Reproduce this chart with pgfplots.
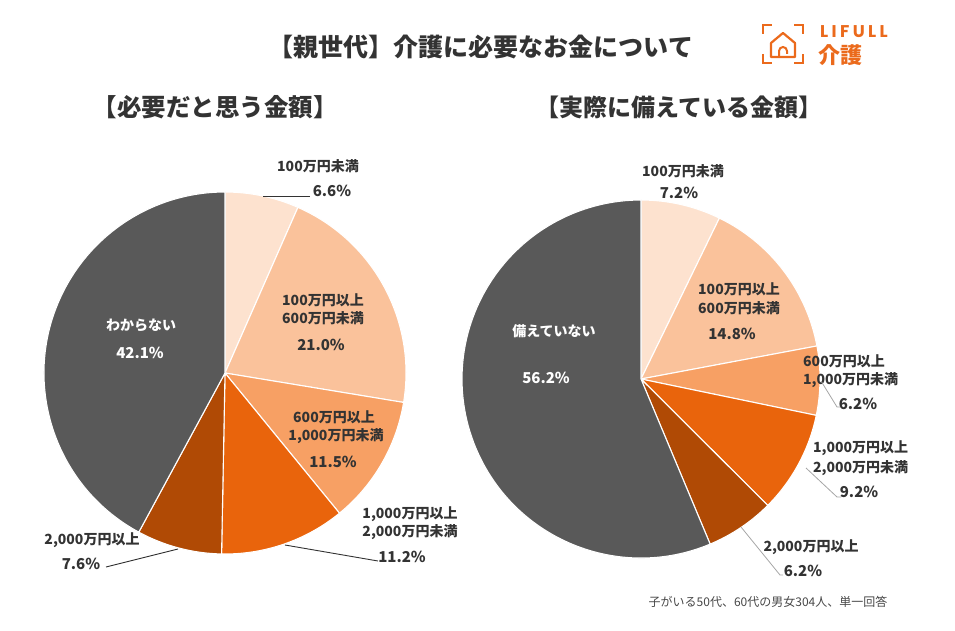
\documentclass[border=0pt]{standalone}
\usepackage{pgfplots}
\pgfplotsset{compat=1.18}
\usepackage{pgfplotstable}
\usepackage{fontspec}
\setmainfont{Noto Sans CJK JP}
\newfontfamily\logofont{Poppins}

% slice colours, from the lowest amount to "don't know"
\definecolor{c0}{HTML}{FDE2CF}
\definecolor{c1}{HTML}{FAC29B}
\definecolor{c2}{HTML}{F7A064}
\definecolor{c3}{HTML}{E9640C}
\definecolor{c4}{HTML}{B04A05}
\definecolor{c5}{HTML}{595959}
\definecolor{txt}{HTML}{333333}
\definecolor{brand}{HTML}{EB6A1C}
\definecolor{leader}{HTML}{A6A6A6}

% shares in percent, in slice order (clockwise from 12 o'clock)
\pgfplotstableread{
pct
6.6
21.0
11.5
11.2
7.6
42.1
}\needed
\pgfplotstableread{
pct
7.2
14.8
6.2
9.2
6.2
56.2
}\saved

% #1 table, #2 radius on the page
\newcommand\drawpie[2]{%
  \def\total{0}%
  \pgfplotsforeachungrouped \i in {0,...,5}{%
    \pgfplotstablegetelem{\i}{pct}\of{#1}\let\val\pgfplotsretval
    \pgfmathsetmacro\total{\total+\val}}%
  \def\cum{0}%
  \pgfplotsforeachungrouped \i in {0,...,5}{%
    \pgfplotstablegetelem{\i}{pct}\of{#1}\let\val\pgfplotsretval
    \pgfmathsetmacro\angA{90-(\cum/\total)*360}%
    \pgfmathsetmacro\cum{\cum+\val}%
    \pgfmathsetmacro\angB{90-(\cum/\total)*360}%
    \edef\slice{\noexpand\fill[fill=c\i, draw=white, line width=1.1pt, line join=round]
      (axis cs:0,0) -- ++(\angA:#2) arc[start angle=\angA, end angle=\angB, radius=#2] -- cycle;}%
    \slice}%
}

\begin{document}
\begin{tikzpicture}
\path[use as bounding box] (0,0) rectangle (955pt,630pt);

\pgfplotsset{piestyle/.style={hide axis, scale only axis, anchor=center,
  xmin=-1, xmax=1, ymin=-1, ymax=1, clip=false}}

\begin{axis}[piestyle, at={(225pt,257pt)}, width=362pt, height=362pt]
\drawpie{\needed}{181pt}
\end{axis}

\begin{axis}[piestyle, at={(641pt,251pt)}, width=358pt, height=358pt]
\drawpie{\saved}{179pt}
\end{axis}

% titles
\node[font=\fontsize{25}{29}\selectfont\bfseries, text=txt] at (481pt,583pt) {【親世代】介護に必要なお金について};
\node[font=\fontsize{24.5}{28}\selectfont\bfseries, text=txt] at (215pt,523pt) {【必要だと思う金額】};
\node[font=\fontsize{24}{28}\selectfont\bfseries, text=txt] at (679pt,523pt) {【実際に備えている金額】};

\tikzset{lab/.style={font=\fontsize{14}{18}\selectfont\bfseries, text=txt, inner sep=0pt},
         pct/.style={font=\fontsize{15}{18}\selectfont\bfseries, text=txt, inner sep=0pt}}

% left pie labels
\node[lab] at (318pt,464pt) {100万円未満};
\node[pct] at (332pt,439pt) {6.6\%};
\draw[txt, line width=0.9pt] (263pt,434pt) -- (310pt,434pt);
\node[lab] at (323pt,330pt) {100万円以上};
\node[lab] at (323pt,312pt) {600万円未満};
\node[pct] at (321pt,285pt) {21.0\%};
\node[lab] at (334pt,213pt) {600万円以上};
\node[lab] at (336pt,194pt) {1,000万円未満};
\node[pct] at (333pt,168pt) {11.5\%};
\node[lab] at (410pt,116pt) {1,000万円以上};
\node[lab] at (410pt,98pt) {2,000万円未満};
\node[pct] at (402pt,73pt) {11.2\%};
\draw[txt, line width=0.9pt] (285pt,85pt) -- (378pt,69pt);
\node[lab] at (92pt,90pt) {2,000万円以上};
\node[pct] at (81pt,66pt) {7.6\%};
\draw[txt, line width=0.9pt] (178pt,81pt) -- (106pt,63pt);
\node[lab, text=white] at (141pt,305pt) {わからない};
\node[pct, text=white] at (140pt,277pt) {42.1\%};

% right pie labels
\node[lab] at (683pt,459pt) {100万円未満};
\node[pct] at (679pt,437pt) {7.2\%};
\node[lab] at (739pt,341pt) {100万円以上};
\node[lab] at (739pt,322pt) {600万円未満};
\node[pct] at (732pt,296pt) {14.8\%};
\node[lab, anchor=west] at (803pt,269pt) {600万円以上};
\node[lab, anchor=west] at (803pt,250pt) {1,000万円未満};
\node[pct] at (858pt,226pt) {6.2\%};
\draw[leader, line width=0.8pt] (821pt,249pt) -- (837pt,223pt) -- (840pt,223pt);
\node[lab, anchor=west] at (813pt,182pt) {1,000万円以上};
\node[lab, anchor=west] at (813pt,162pt) {2,000万円未満};
\node[pct] at (859pt,138pt) {9.2\%};
\draw[leader, line width=0.8pt] (806pt,162pt) -- (837pt,133pt) -- (841pt,133pt);
\node[lab] at (811pt,83pt) {2,000万円以上};
\node[pct] at (803pt,59pt) {6.2\%};
\draw[leader, line width=0.8pt] (741pt,103pt) -- (780pt,55pt) -- (783pt,55pt);
\node[lab, text=white] at (554pt,299pt) {備えていない};
\node[pct, text=white] at (546pt,252pt) {56.2\%};

% footnote
\node[font=\fontsize{12}{14}\selectfont, text=txt!90] at (768pt,28pt) {子がいる50代、60代の男女304人、単一回答};

% logo
\begin{scope}[brand, line width=2.6pt]
\draw (763pt,596pt) -- (763pt,605pt) -- (772pt,605pt);
\draw (794pt,605pt) -- (803pt,605pt) -- (803pt,596pt);
\draw (763pt,576pt) -- (763pt,567pt) -- (772pt,567pt);
\draw (794pt,567pt) -- (803pt,567pt) -- (803pt,576pt);
\draw[line width=2.2pt, line join=round] (771pt,573pt) -- (771pt,587pt) -- (783pt,597pt) -- (795pt,587pt) -- (795pt,573pt) -- cycle;
\draw[line width=2pt] (779pt,573pt) -- (779pt,579pt) arc[start angle=180, end angle=0, radius=4pt] -- (787pt,576pt);
\end{scope}
\node[anchor=west, inner sep=0pt, text=brand, font=\logofont\fontsize{17}{20}\selectfont\bfseries\addfontfeatures{LetterSpace=20}] at (820pt,598pt) {LIFULL};
\node[anchor=west, inner sep=0pt, text=brand, font=\fontsize{22}{24}\selectfont\bfseries] at (818pt,575pt) {介護};
\end{tikzpicture}
\end{document}
